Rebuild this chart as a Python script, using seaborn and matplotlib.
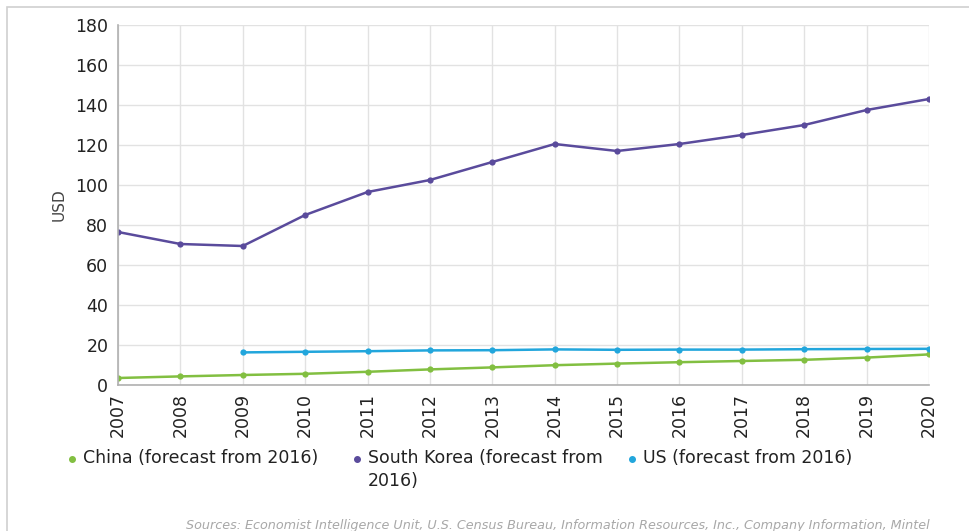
import numpy as np
import pandas as pd
import seaborn as sns
import matplotlib.pyplot as plt
from matplotlib.lines import Line2D
from matplotlib.patches import Rectangle

years = list(range(2007, 2021))
china = [3.5, 4.3, 5.0, 5.6, 6.6, 7.8, 8.8, 9.9, 10.7, 11.4, 12.0, 12.6, 13.7, 15.3]
south_korea = [76.5, 70.5, 69.5, 85.0, 96.5, 102.5, 111.5, 120.5, 117.0, 120.5, 125.0, 130.0, 137.5, 143.0]
us = [np.nan, np.nan, 16.3, 16.6, 16.9, 17.3, 17.4, 17.8, 17.6, 17.7, 17.7, 17.9, 18.0, 18.1]

series_names = ["China (forecast from 2016)",
                "South Korea (forecast from\n2016)",
                "US (forecast from 2016)"]
colors = ["#82bf41", "#5a4b9c", "#22a6dc"]

df = pd.DataFrame({"year": years * 3,
                   "usd": china + south_korea + us,
                   "series": np.repeat(series_names, len(years))}).dropna()

sns.set_style("white")
plt.rcParams['font.family'] = ['DejaVu Sans']

W, H = 970, 531
fig = plt.figure(figsize=(9.7, 5.31), dpi=100)
ax = fig.add_axes([118 / W, 1 - 385 / H, (929 - 118) / W, (385 - 25) / H])

sns.lineplot(data=df, x="year", y="usd", hue="series", hue_order=series_names,
             palette=colors, marker="o", markersize=4.5, markeredgewidth=0,
             linewidth=1.8, legend=False, ax=ax)

ax.set_xlim(2007, 2020)
ax.set_ylim(0, 180)
ax.set_xticks(years)
ax.set_xticklabels([str(y) for y in years], rotation=90, fontsize=12.5, color="#222222")
ax.set_yticks(range(0, 181, 20))
ax.tick_params(axis="y", labelsize=12.5, labelcolor="#222222", length=0, pad=7)
ax.tick_params(axis="x", length=0, pad=6)
ax.set_xlabel("")
ax.set_ylabel("USD", fontsize=11, color="#444444", labelpad=6)
ax.grid(True, color="#e2e2e2", linewidth=1)
for side in ["top", "right"]:
    ax.spines[side].set_visible(False)
for side in ["left", "bottom"]:
    ax.spines[side].set_color("#b0b0b0")
    ax.spines[side].set_linewidth(1.2)

# legend drawn by hand so the wrapped label keeps its first line aligned
legend_x = [72, 357, 632]
for name, c, lx in zip(series_names, colors, legend_x):
    fig.add_artist(Line2D([lx / W], [1 - 459 / H], transform=fig.transFigure,
                          color=c, marker="o", markersize=4, linestyle="none"))
    fig.text((lx + 11) / W, 1 - 449 / H, name, ha="left", va="top",
             fontsize=12.5, color="#222222", linespacing=1.35)

fig.text(930 / W, 1 - 525 / H,
         "Sources: Economist Intelligence Unit, U.S. Census Bureau, Information Resources, Inc., Company Information, Mintel",
         ha="right", va="center", fontsize=9.2, style="italic", color="#a8a8a8")

fig.patches.append(Rectangle((7 / W, -0.05), 2, 1 - 7 / H + 0.05, transform=fig.transFigure,
                             fill=False, edgecolor="#d0d0d0", linewidth=1.2))

fig.savefig("out.png", dpi=100)
